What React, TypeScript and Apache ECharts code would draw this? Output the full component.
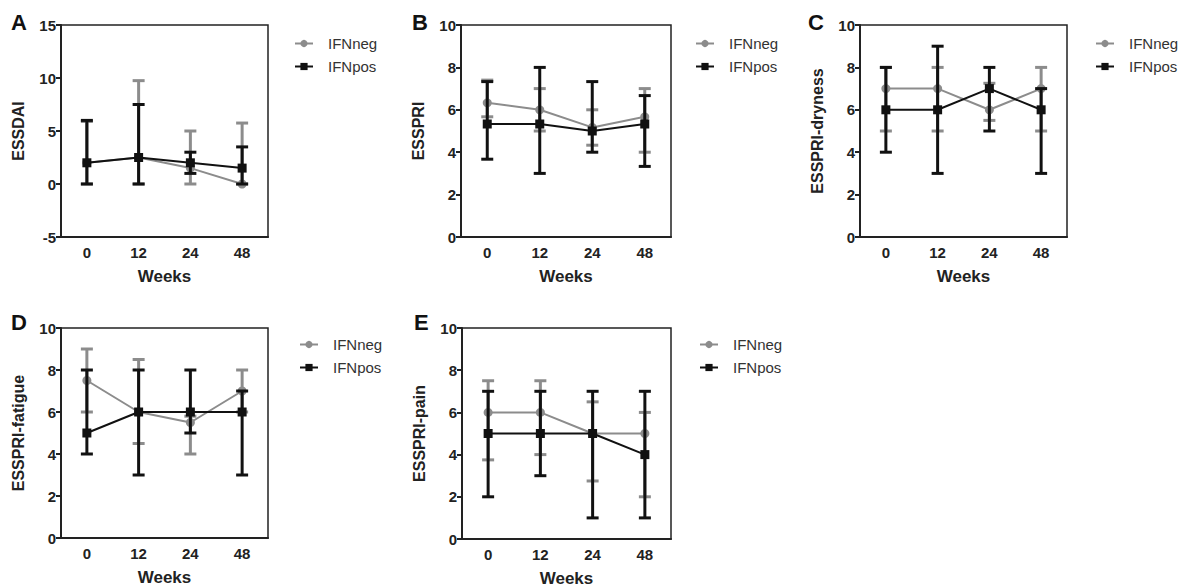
import React, { useEffect, useRef } from "react";
import * as echarts from "echarts";

const weeks = ["0", "12", "24", "48"];
const panelLetters = ["A", "B", "C", "D", "E"];
const yNames = ["ESSDAI", "ESSPRI", "ESSPRI-dryness", "ESSPRI-fatigue", "ESSPRI-pain"];
const yMins = [-5, 0, 0, 0, 0];
const yMaxs = [15, 10, 10, 10, 10];
const yIntervals = [5, 2, 2, 2, 2];

// IFNneg (grey)
const negMedA = [2, 2.5, 1.5, 0];
const negLoA = [0, 0, 0, 0];
const negHiA = [5.9, 9.75, 5, 5.75];
const negMedB = [6.33, 6.0, 5.17, 5.67];
const negLoB = [5.67, 5.0, 4.33, 4.0];
const negHiB = [7.4, 7.0, 6.0, 7.0];
const negMedC = [7, 7, 6, 7];
const negLoC = [5, 5, 5.5, 5];
const negHiC = [8, 8, 7.25, 8];
const negMedD = [7.5, 6, 5.5, 7];
const negLoD = [6, 4.5, 4, 6];
const negHiD = [9, 8.5, 5.8, 8];
const negMedE = [6, 6, 5, 5];
const negLoE = [3.75, 4, 2.75, 2];
const negHiE = [7.5, 7.5, 6.5, 6];

// IFNpos (black)
const posMedA = [2, 2.5, 2, 1.5];
const posLoA = [0, 0, 1, 0];
const posHiA = [6, 7.5, 3, 3.5];
const posMedB = [5.33, 5.33, 5.0, 5.33];
const posLoB = [3.67, 3, 4, 3.33];
const posHiB = [7.33, 8, 7.33, 6.67];
const posMedC = [6, 6, 7, 6];
const posLoC = [4, 3, 5, 3];
const posHiC = [8, 9, 8, 7];
const posMedD = [5, 6, 6, 6];
const posLoD = [4, 3, 5, 3];
const posHiD = [8, 8, 8, 7];
const posMedE = [5, 5, 5, 4];
const posLoE = [2, 3, 1, 1];
const posHiE = [7, 7, 7, 7];

const negMeds = [negMedA, negMedB, negMedC, negMedD, negMedE];
const negLos = [negLoA, negLoB, negLoC, negLoD, negLoE];
const negHis = [negHiA, negHiB, negHiC, negHiD, negHiE];
const posMeds = [posMedA, posMedB, posMedC, posMedD, posMedE];
const posLos = [posLoA, posLoB, posLoC, posLoD, posLoE];
const posHis = [posHiA, posHiB, posHiC, posHiD, posHiE];

const GREY = "#8c8c8c";
const BLACK = "#111111";
const FONT = "Liberation Sans";

const grids = [
  { left: 61, top: 25, width: 207, height: 212 },
  { left: 461, top: 25, width: 210, height: 212 },
  { left: 860, top: 25, width: 207, height: 212 },
  { left: 61, top: 328, width: 207, height: 210 },
  { left: 462, top: 328, width: 209, height: 211 },
];
const legendPos = [
  { left: 289, top: 31 },
  { left: 690, top: 31 },
  { left: 1090, top: 31 },
  { left: 294, top: 332 },
  { left: 694, top: 332 },
];
const letterPos = [
  { x: 11, y: 11 },
  { x: 412, y: 11 },
  { x: 808, y: 11 },
  { x: 11, y: 311 },
  { x: 414, y: 311 },
];

function errorSeries(name: string, idx: number, lo: number[], hi: number[], color: string) {
  return {
    type: "custom",
    name,
    xAxisIndex: idx,
    yAxisIndex: idx,
    silent: true,
    z: color === BLACK ? 4 : 2,
    encode: { x: 0, y: [1, 2] },
    data: lo.map((l, i) => [i, l, hi[i]]),
    renderItem: (params: any, api: any) => {
      const p1 = api.coord([api.value(0), api.value(1)]);
      const p2 = api.coord([api.value(0), api.value(2)]);
      const hw = 6;
      const style = { stroke: color, lineWidth: 3 };
      return {
        type: "group",
        children: [
          { type: "line", shape: { x1: p1[0], y1: p1[1], x2: p2[0], y2: p2[1] }, style },
          { type: "line", shape: { x1: p1[0] - hw, y1: p1[1], x2: p1[0] + hw, y2: p1[1] }, style },
          { type: "line", shape: { x1: p2[0] - hw, y1: p2[1], x2: p2[0] + hw, y2: p2[1] }, style },
        ],
      };
    },
  };
}

export default function App() {
  const ref = useRef<HTMLDivElement>(null);
  useEffect(() => {
    if (!ref.current) return;
    const chart = echarts.init(ref.current, null, { renderer: "svg" });
    const series: any[] = [];
    for (let i = 0; i < 5; i++) {
      series.push(errorSeries("IFNneg-err", i, negLos[i], negHis[i], GREY));
      series.push({
        type: "line",
        name: "IFNneg",
        xAxisIndex: i,
        yAxisIndex: i,
        data: negMeds[i],
        symbol: "circle",
        symbolSize: 9,
        z: 3,
        lineStyle: { color: GREY, width: 2 },
        itemStyle: { color: GREY },
      });
      series.push(errorSeries("IFNpos-err", i, posLos[i], posHis[i], BLACK));
      series.push({
        type: "line",
        name: "IFNpos",
        xAxisIndex: i,
        yAxisIndex: i,
        data: posMeds[i],
        symbol: "rect",
        symbolSize: 9,
        z: 5,
        lineStyle: { color: BLACK, width: 2 },
        itemStyle: { color: BLACK },
      });
    }
    const option: any = {
      animation: false,
      backgroundColor: "#ffffff",
      textStyle: { fontFamily: FONT },
      grid: grids.map((g) => ({ ...g, show: true, borderColor: "#222", borderWidth: 1.5, backgroundColor: "transparent" })),
      xAxis: grids.map((_, i) => ({
        type: "category",
        gridIndex: i,
        data: weeks,
        boundaryGap: true,
        name: "Weeks",
        nameLocation: "middle",
        nameGap: 31,
        nameTextStyle: { fontFamily: FONT, fontWeight: "bold", fontSize: 17, color: "#222" },
        axisLine: { onZero: false, lineStyle: { color: "#222", width: 2 } },
        axisTick: { alignWithLabel: true, length: 5, lineStyle: { width: 2, color: "#222" } },
        axisLabel: { fontFamily: FONT, fontWeight: "bold", fontSize: 15, color: "#222", margin: 8 },
        splitLine: { show: false },
      })),
      yAxis: grids.map((_, i) => ({
        type: "value",
        gridIndex: i,
        min: yMins[i],
        max: yMaxs[i],
        interval: yIntervals[i],
        name: yNames[i],
        nameLocation: "middle",
        nameGap: 35,
        nameTextStyle: { fontFamily: FONT, fontWeight: "bold", fontSize: 16, color: "#222" },
        axisLine: { show: true, onZero: false, lineStyle: { color: "#222", width: 2 } },
        axisTick: { show: true, length: 5, lineStyle: { width: 2, color: "#222" } },
        axisLabel: { fontFamily: FONT, fontWeight: "bold", fontSize: 15, color: "#222", margin: 5 },
        splitLine: { show: false },
      })),
      legend: legendPos.map((p) => ({
        left: p.left,
        top: p.top,
        orient: "vertical",
        data: ["IFNneg", "IFNpos"],
        itemWidth: 18,
        itemHeight: 9,
        itemGap: 8,
        selectedMode: false,
        textStyle: { fontFamily: FONT, fontSize: 15, color: "#333", padding: [0, 0, 0, 10] },
      })),
      graphic: panelLetters.map((t, i) => ({
        type: "text",
        left: letterPos[i].x,
        top: letterPos[i].y,
        style: { text: t, fontFamily: FONT, fontWeight: "bold", fontSize: 22, fill: "#111" },
      })),
      series,
    };
    chart.setOption(option);
    return () => chart.dispose();
  }, []);
  return (
    <div
      ref={ref}
      style={{ position: "fixed", left: 0, top: 0, width: 1187, height: 588, background: "#fff" }}
    />
  );
}
